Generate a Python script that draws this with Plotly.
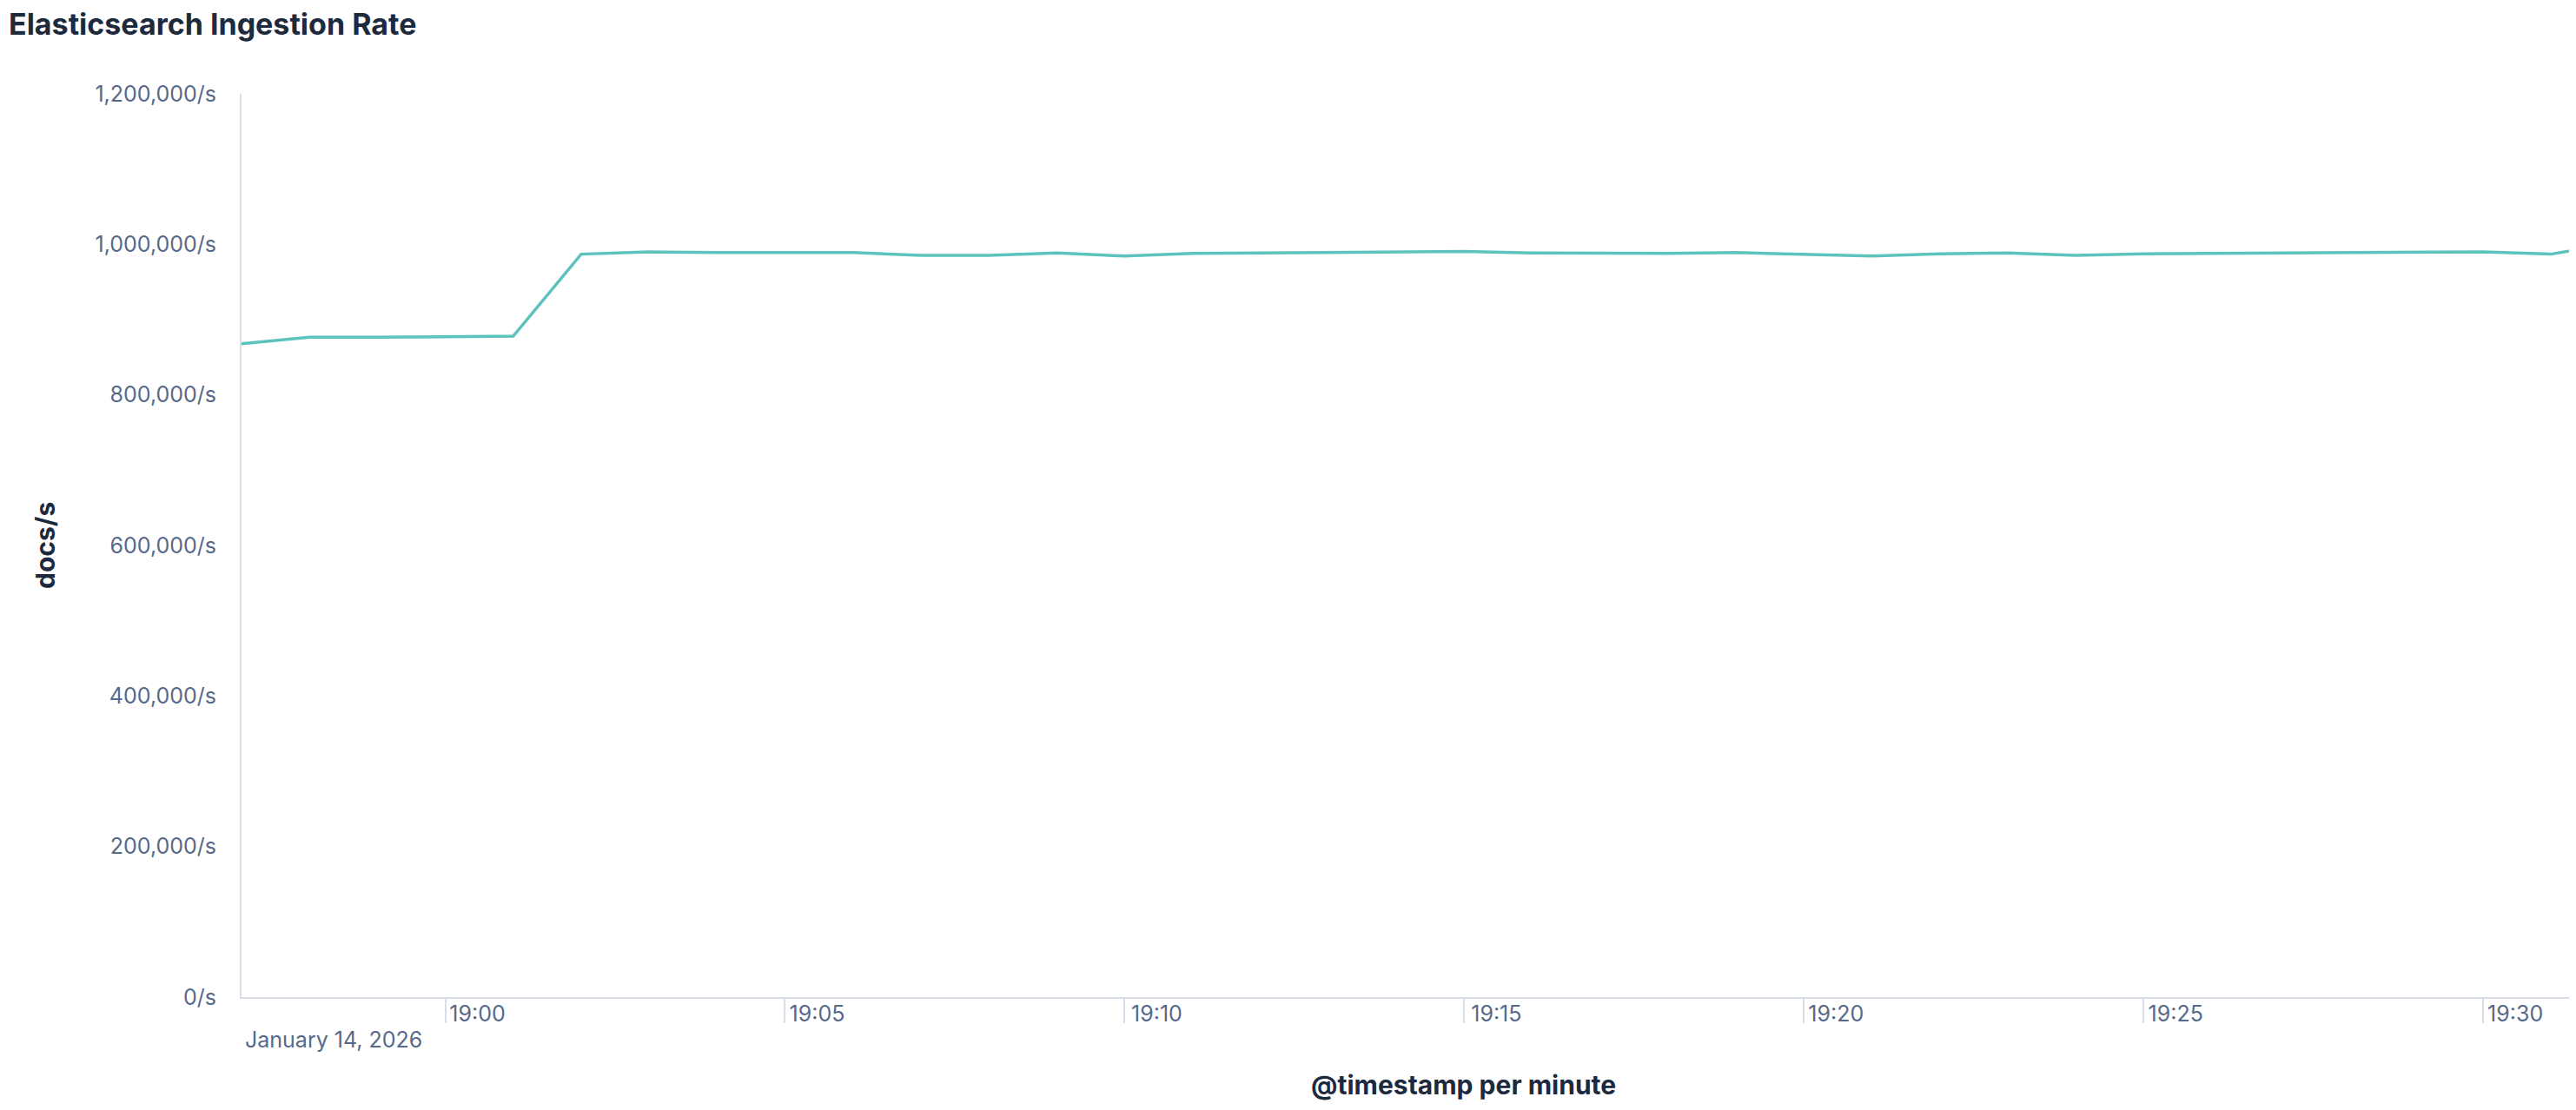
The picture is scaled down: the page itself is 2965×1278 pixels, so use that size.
#!/usr/bin/env python
"""Elasticsearch Ingestion Rate - docs/s per minute"""

import plotly.graph_objects as go

# data (one point per minute)
day = '2026-01-14'
dateLabel = 'January 14, 2026'
minutes = ['18:57', '18:58', '18:59', '19:00', '19:01', '19:02', '19:03', '19:04', '19:05',
           '19:06', '19:07', '19:08', '19:09', '19:10', '19:11', '19:12', '19:13', '19:14',
           '19:15', '19:16', '19:17', '19:18', '19:19', '19:20', '19:21', '19:22', '19:23',
           '19:24', '19:25', '19:26', '19:27', '19:28', '19:29', '19:30', '19:31', '19:32']
docsPerSec = [868000, 876500, 876700, 877000, 878000, 987000, 990000, 989000, 989000,
              989000, 985500, 985500, 988500, 984500, 988000, 988500, 989000, 990000,
              990500, 988500, 988000, 988000, 989000, 987000, 984500, 987500, 988500,
              985500, 987500, 988000, 988500, 988500, 990000, 990000, 987000, 1003000]

# axis ticks
xTickVals = ['19:00', '19:05', '19:10', '19:15', '19:20', '19:25', '19:30']
yTickVals = [0, 200000, 400000, 600000, 800000, 1000000, 1200000]
xRange = ['18:57:00', '19:31:22']

timestamps = ['%s %s' % (day, m) for m in minutes]

# colours / fonts
lineColor = '#5cc3bc'
axisColor = '#d6dce8'
labelColor = '#57698a'
titleColor = '#1d2a3e'
font = 'Inter'

# the page body has an 8px margin, so the figure is shifted by that much
pad = 8

fig = go.Figure()
fig.add_trace(
    go.Scatter(x=timestamps, y=docsPerSec, mode='lines', name='docs/s',
               line=dict(color=lineColor, width=3.5))
)

fig.update_layout(
    width=2965 - pad,
    height=1278 - pad,
    margin=dict(l=278 - pad, r=0, t=108 - pad, b=138 - pad),
    paper_bgcolor='white',
    plot_bgcolor='white',
    showlegend=False,
    font=dict(family=font, size=25, color=labelColor),
    title=dict(text='<b>Elasticsearch Ingestion Rate</b>', x=2 / 2957, xanchor='left',
               y=1 - 20 / 1270, yanchor='middle', xref='container', yref='container',
               font=dict(family=font, size=34, color=titleColor))
)

fig.update_xaxes(
    type='date',
    range=['%s %s' % (day, r) for r in xRange],
    tickvals=['%s %s' % (day, t) for t in xTickVals],
    ticktext=xTickVals,
    showline=True, linecolor=axisColor, linewidth=2,
    ticks='outside', ticklen=28, tickwidth=2, tickcolor=axisColor,
    ticklabelshift=37, ticklabelstandoff=-32,
    showgrid=False, zeroline=False,
    tickfont=dict(family=font, size=25, color=labelColor)
)

fig.update_yaxes(
    range=[0, 1200000],
    tickvals=yTickVals,
    ticktext=['{:,}/s'.format(v) for v in yTickVals],
    showline=True, linecolor=axisColor, linewidth=2,
    ticks='', ticklabelstandoff=22,
    showgrid=False, zeroline=False,
    tickfont=dict(family=font, size=25, color=labelColor)
)

# date under the first tick, axis titles
fig.add_annotation(text=dateLabel, xref='paper', yref='paper', x=0, y=0,
                   xanchor='left', yanchor='middle', xshift=2, yshift=-49, showarrow=False,
                   font=dict(family=font, size=25, color=labelColor))
fig.add_annotation(text='<b>@timestamp per minute</b>', xref='paper', yref='paper',
                   x=(1684 - 278) / (2965 - 278), y=0, xanchor='center', yanchor='middle',
                   yshift=-101, showarrow=False,
                   font=dict(family=font, size=30, color=titleColor))
fig.add_annotation(text='<b>docs/s</b>', xref='paper', yref='paper', x=0, y=0.5,
                   xanchor='center', yanchor='middle', xshift=-(278 - 52), textangle=-90,
                   showarrow=False, font=dict(family=font, size=30, color=titleColor))

fig.write_html("out.html")
